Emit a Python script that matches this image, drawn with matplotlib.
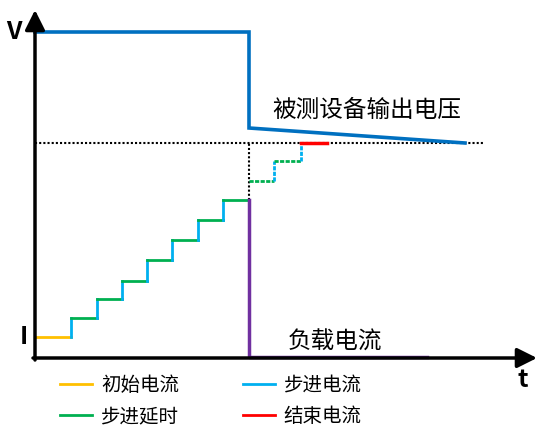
import matplotlib.pyplot as plt
from matplotlib.lines import Line2D

plt.rcParams['font.family'] = ['Noto Sans CJK SC', 'DejaVu Sans']

# time / level values (diagram units, origin at the axes corner)
step_t = [0, 36, 62, 87, 112, 137, 163, 188, 214]
step_lv = [21, 40, 59, 77, 98, 118, 138, 158]
after_t = [214, 239, 266, 292]
after_lv = [177, 197, 215]
volt_t = [0, 214, 214, 430]
volt_lv = [326, 326, 230, 215]
ref_lv = 215
ref_end = 450
load_end = 392

c_init = '#FFC000'
c_step = '#00B0F0'
c_delay = '#00B050'
c_end = '#FF0000'
c_volt = '#0070C0'
c_load = '#7030A0'

fig = plt.figure(figsize=(5.37, 4.28), dpi=100)
ax = fig.add_axes([0, 0, 1, 1])
ax.set_xlim(-35, 502)
ax.set_ylim(-70, 358)
ax.axis('off')

# reference dotted lines
ax.plot([0, ref_end], [ref_lv, ref_lv], color='black', ls=(0, (1, 1)), lw=1.5, zorder=1)
ax.plot([step_t[-1], step_t[-1]], [step_lv[-1], ref_lv], color='black', ls=(0, (1, 1)), lw=1.5, zorder=1)

# voltage
ax.plot(volt_t, volt_lv, color=c_volt, lw=2.6, solid_joinstyle='miter', zorder=3)

# initial current
ax.plot(step_t[:2], [step_lv[0], step_lv[0]], color=c_init, lw=2, zorder=3)
# steps
for i in range(1, len(step_lv)):
    ax.plot([step_t[i], step_t[i]], [step_lv[i - 1], step_lv[i]], color=c_step, lw=2, zorder=3)
    ax.plot([step_t[i], step_t[i + 1]], [step_lv[i], step_lv[i]], color=c_delay, lw=2, zorder=3)

# steps after the drop (dotted)
dot = (0, (1.5, 0.5))
ax.plot([after_t[0], after_t[1]], [after_lv[0], after_lv[0]], color=c_delay, lw=2, ls=dot, zorder=3)
ax.plot([after_t[1], after_t[1]], [after_lv[0], after_lv[1]], color=c_step, lw=2, ls=dot, zorder=3)
ax.plot([after_t[1], after_t[2]], [after_lv[1], after_lv[1]], color=c_delay, lw=2, ls=dot, zorder=3)
ax.plot([after_t[2], after_t[2]], [after_lv[1], after_lv[2]], color=c_step, lw=2, ls=dot, zorder=3)
ax.plot([after_t[2], after_t[3]], [after_lv[2], after_lv[2]], color=c_end, lw=2.5, zorder=3)

# load current
ax.plot([step_t[-1], step_t[-1], load_end], [step_lv[-1], 1, 1], color=c_load, lw=2.5, zorder=3)

# axes arrows
ax.annotate('', xy=(0, 348), xytext=(0, -2),
            arrowprops=dict(arrowstyle='-|>,head_length=1.2,head_width=0.6', color='black', lw=2.5, shrinkA=0, shrinkB=0))
ax.annotate('', xy=(502, 0), xytext=(-2, 0),
            arrowprops=dict(arrowstyle='-|>,head_length=1.2,head_width=0.6', color='black', lw=2.5, shrinkA=0, shrinkB=0))

ax.text(-21, 326, 'V', fontsize=18, fontweight='bold', ha='center', va='center')
ax.text(-11, 21, 'I', fontsize=18, fontweight='bold', ha='center', va='center')
ax.text(488, -22, 't', fontsize=18, fontweight='bold', ha='center', va='center')
ax.text(332, 248, '被测设备输出电压', fontsize=17, ha='center', va='center')
ax.text(300, 16, '负载电流', fontsize=17, ha='center', va='center')

handles = [Line2D([], [], color=c_init, lw=2),
           Line2D([], [], color=c_delay, lw=2),
           Line2D([], [], color=c_step, lw=2),
           Line2D([], [], color=c_end, lw=2)]
labels = ['初始电流', '步进延时', '步进电流', '结束电流']
ax.legend(handles, labels, ncol=2, frameon=False, fontsize=14,
          loc='upper left', bbox_to_anchor=(25, -17), bbox_transform=ax.transData,
          handlelength=1.65, handletextpad=0.45, columnspacing=3.3, labelspacing=0.52,
          borderpad=0, borderaxespad=0)

fig.savefig('out.png', dpi=100)
